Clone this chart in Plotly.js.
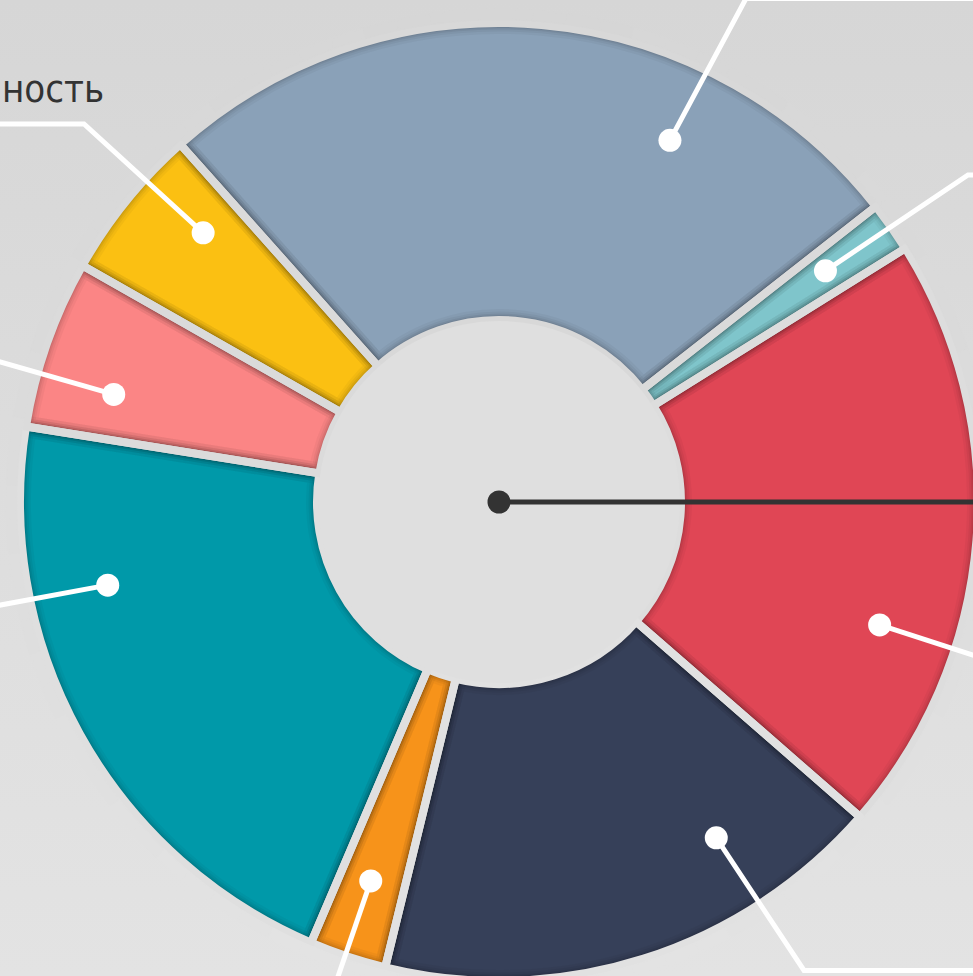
<!DOCTYPE html>
<html>
<head>
<meta charset="utf-8">
<script src="https://cdn.plot.ly/plotly-3.0.1.min.js"></script>
<style>
html,body{margin:0;padding:0;overflow:hidden;width:973px;height:976px;
  background:linear-gradient(to bottom,#d6d6d6 0%,#dddddd 50%,#e3e3e3 100%);}
#chart{width:1000px;height:1000px;}
</style>
</head>
<body>
<div id="chart"></div>
<script>
// ---- data ----
const categories = ['Сегмент 1','Сегмент 2','Сегмент 3','Сегмент 4','Сегмент 5','Сегмент 6','Сегмент 7','Сегмент 8'];
const shares = [26.0, 1.7, 20.3, 17.4, 2.6, 21.1, 5.7, 5.2];
const sliceColors = ['#8aa1b8','#7fc5cb','#e04655','#364059','#f7931a','#0099a9','#fb8585','#fbc012'];
const visibleLabel = 'ность';

// ---- layout geometry (pixels) ----
const W = 1000, H = 1000;
const CX = 499, CY = 502;
const R = 479;            // pie radius (gap stroke eats 4px)
const HOLE_PX = 182;
const GAP = 8;
const START_ANGLE = -41.7;
const leaderAngles = [25.3, 54.7, 107.9, 147.1, 198.7, 258.0, 285.6, 312.3];
const LEADER_R = 400;
const leaderTails = [
  [[746,-1.5],[1000,-1.5]],
  [[968,175],[1000,175]],
  [[1000,664]],
  [[804,970.5],[1000,970.5]],
  [[330,1000]],
  [[-10,607]],
  [[-10,359]],
  [[84,124],[-10,124]]
];
const MASK_SEGMENTS = 90;   // decorative mask ring resolution

function bgAt(y){
  const t = Math.max(0, Math.min(1, y/976));
  const v = Math.round(214 + (227-214)*t);
  return 'rgb('+v+','+v+','+v+')';
}
const px = x => x / W;
const py = y => 1 - y / H;
const total = shares.reduce((a,b)=>a+b,0);

function domainFor(r){
  return {x:[(CX-r)/W,(CX+r)/W], y:[1-(CY+r)/H, 1-(CY-r)/H]};
}
const base = {
  type:'pie', labels:categories, values:shares, sort:false, direction:'clockwise',
  rotation:START_ANGLE, hole:HOLE_PX/R, domain:domainFor(R), textinfo:'none',
  hoverinfo:'skip', showlegend:false
};
const clear = shares.map(()=> 'rgba(0,0,0,0)');

let acc = 0;
const gapColors = shares.map(v=>{
  const mid = START_ANGLE + (acc + v/2)/total*360;
  acc += v;
  return bgAt(CY - 330*Math.cos(mid*Math.PI/180));
});

// mask ring (decoration): equal segments coloured like the background behind them
const RING = R + 14;
const maskLabels = [], maskSizes = [], maskColors = [];
for(let k=0;k<MASK_SEGMENTS;k++){
  const mid = (k+0.5)/MASK_SEGMENTS*2*Math.PI;
  maskLabels.push('m'+k); maskSizes.push(1);
  maskColors.push(bgAt(CY - (R+8)*Math.cos(mid)));
}

const traces = [
  Object.assign({}, base, {marker:{colors:sliceColors, line:{width:0}}}),
  Object.assign({}, base, {marker:{colors:clear, line:{width:22, color:'rgba(0,0,0,0.035)'}}}),
  Object.assign({}, base, {marker:{colors:clear, line:{width:17, color:'rgba(0,0,0,0.045)'}}}),
  Object.assign({}, base, {marker:{colors:clear, line:{width:13, color:'rgba(0,0,0,0.055)'}}}),
  Object.assign({}, base, {marker:{colors:clear, line:{width:10, color:'rgba(0,0,0,0.06)'}}}),
  Object.assign({}, base, {marker:{colors:clear, line:{width:GAP, color:gapColors}}}),
  {type:'pie', labels:maskLabels, values:maskSizes, sort:false, direction:'clockwise',
   rotation:0, domain:domainFor(RING), hole:(R+3.5)/RING, textinfo:'none',
   hoverinfo:'skip', showlegend:false,
   marker:{colors:maskColors, line:{width:1.5, color:maskColors}}}
];

const shapes = [];
shapes.push({type:'circle', xref:'paper', yref:'paper', layer:'above',
  x0:px(CX-181), x1:px(CX+181), y0:py(CY+181), y1:py(CY-181),
  fillcolor:'#dfdfdf', line:{width:0}});
leaderAngles.forEach((a,i)=>{
  const t = a*Math.PI/180;
  const dx = CX + LEADER_R*Math.sin(t), dy = CY - LEADER_R*Math.cos(t);
  let path = 'M'+px(dx)+','+py(dy);
  leaderTails[i].forEach(p=>{ path += ' L'+px(p[0])+','+py(p[1]); });
  shapes.push({type:'path', xref:'paper', yref:'paper', layer:'above', path:path,
    line:{color:'#ffffff', width:5}});
  shapes.push({type:'circle', xref:'paper', yref:'paper', layer:'above',
    x0:px(dx-11.5), x1:px(dx+11.5), y0:py(dy+11.5), y1:py(dy-11.5),
    fillcolor:'#ffffff', line:{width:0}});
});
shapes.push({type:'line', xref:'paper', yref:'paper', layer:'above',
  x0:px(CX), y0:py(CY), x1:px(1000), y1:py(CY), line:{color:'#333333', width:5}});
shapes.push({type:'circle', xref:'paper', yref:'paper', layer:'above',
  x0:px(CX-11.5), x1:px(CX+11.5), y0:py(CY+11.5), y1:py(CY-11.5),
  fillcolor:'#333333', line:{width:0}});

const layout = {
  width:W, height:H, margin:{l:0,r:0,t:0,b:0,pad:0},
  paper_bgcolor:'rgba(0,0,0,0)', plot_bgcolor:'rgba(0,0,0,0)',
  hovermode:false, shapes:shapes,
  annotations:[{
    xref:'paper', yref:'paper', x:px(105), y:py(89), xanchor:'right', yanchor:'middle',
    text:visibleLabel, showarrow:false, borderpad:0,
    font:{family:'DejaVu Sans Condensed, DejaVu Sans, sans-serif', size:38, color:'#333333'}
  }]
};
Plotly.newPlot('chart', traces, layout, {staticPlot:true, displayModeBar:false});
</script>
</body>
</html>
